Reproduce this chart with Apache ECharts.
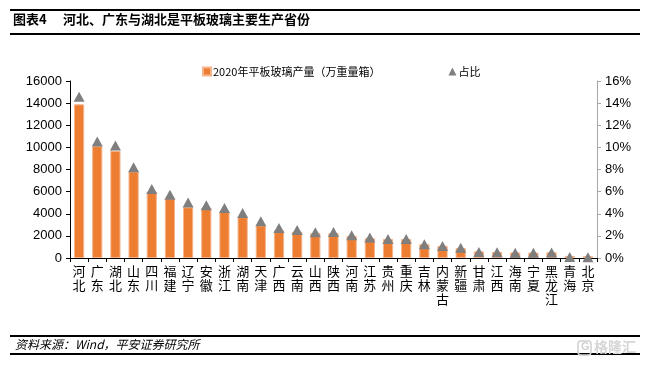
<!DOCTYPE html>
<html>
<head>
<meta charset="utf-8">
<script src="https://cdn.jsdelivr.net/npm/echarts@6/dist/echarts.min.js"></script>
<style>
  html, body { margin: 0; padding: 0; background: #fff; }
  #show { width: 648px; height: 367px; }
</style>
</head>
<body>
<div id="show"></div>
<script>
var myChart = echarts.init(document.getElementById("show"));

// 省份
var provinces = ["河北", "广东", "湖北", "山东", "四川", "福建", "辽宁", "安徽", "浙江", "湖南",
    "天津", "广西", "云南", "山西", "陕西", "河南", "江苏", "贵州", "重庆", "吉林",
    "内蒙古", "新疆", "甘肃", "江西", "海南", "宁夏", "黑龙江", "青海", "北京"];

// 2020年平板玻璃产量（万重量箱）
var output = [13890, 10110, 9690, 7820, 5960, 5380, 4590, 4530, 4160, 3690,
    2950, 2500, 2380, 2250, 2250, 2000, 1800, 1720, 1720, 1250,
    1100, 900, 600, 550, 500, 490, 520, 180, 160];

// 占比（%）
var share = [14.58, 10.52, 10.18, 8.21, 6.24, 5.72, 5.02, 4.77, 4.53, 4.07,
    3.33, 2.72, 2.52, 2.33, 2.35, 2.06, 1.85, 1.72, 1.72, 1.24,
    1.09, 0.92, 0.55, 0.52, 0.48, 0.48, 0.50, 0.08, 0.06];

var leftTicks = [0, 16000, 2000];   // min, max, interval
var rightTicks = [0, 16, 2];

var cjk = '"Noto Sans CJK SC", sans-serif';
var latin = '"Liberation Sans", Arial, sans-serif';

myChart.setOption(option = {
    animation: false,
    textStyle: { fontFamily: latin },
    legend: {
        top: 61,
        left: 197,
        itemGap: 68,
        itemWidth: 8,
        itemHeight: 8,
        textStyle: { fontFamily: cjk, fontSize: 11, color: '#000', padding: [0, 0, 0, -3] },
        data: [
            { name: '2020年平板玻璃产量（万重量箱）', icon: 'rect' },
            { name: '占比', icon: 'triangle' }
        ]
    },
    grid: {
        left: 70,
        right: 51,
        top: 81,
        bottom: 109
    },
    xAxis: {
        type: 'category',
        data: provinces,
        axisLine: { lineStyle: { color: '#000', width: 1 } },
        axisTick: { show: true, length: 4, lineStyle: { color: '#000' } },
        axisLabel: {
            interval: 0,
            margin: 6,
            fontFamily: cjk,
            fontSize: 13,
            lineHeight: 14,
            color: '#000',
            formatter: function (v) { return v.split('').join('\n'); }
        }
    },
    yAxis: [
        {
            type: 'value',
            min: leftTicks[0],
            max: leftTicks[1],
            interval: leftTicks[2],
            splitLine: { show: false },
            axisLine: { show: true, lineStyle: { color: '#000' } },
            axisTick: { show: true, length: 4, lineStyle: { color: '#000' } },
            axisLabel: { fontSize: 13, color: '#000', margin: 8, formatter: function (v) { return String(v); } }
        },
        {
            type: 'value',
            min: rightTicks[0],
            max: rightTicks[1],
            interval: rightTicks[2],
            splitLine: { show: false },
            axisLine: { show: true, lineStyle: { color: '#a6a6a6' } },
            axisTick: { show: true, length: 4, lineStyle: { color: '#a6a6a6' } },
            axisLabel: { fontSize: 13, color: '#000', margin: 8, formatter: '{value}%' }
        }
    ],
    series: [
        {
            name: '2020年平板玻璃产量（万重量箱）',
            type: 'bar',
            data: output,
            barWidth: '56%',
            itemStyle: { color: '#ED7D31', borderColor: '#F6B48C', borderWidth: 1 }
        },
        {
            name: '占比',
            type: 'line',
            yAxisIndex: 1,
            data: share,
            symbol: 'triangle',
            symbolSize: [11, 10],
            lineStyle: { width: 0, opacity: 0 },
            itemStyle: { color: '#7F7F7F' },
            z: 5
        }
    ],
    graphic: [
        { type: 'rect', shape: { x: 10, y: 9, width: 630, height: 2 }, style: { fill: '#000' } },
        { type: 'text', left: 13, top: 13, style: { text: '图表4', font: 'bold 13px ' + cjk, fill: '#000' } },
        { type: 'text', left: 63, top: 13, style: { text: '河北、广东与湖北是平板玻璃主要生产省份', font: 'bold 13px ' + cjk, fill: '#000' } },
        { type: 'rect', shape: { x: 10, y: 33, width: 630, height: 2 }, style: { fill: '#000' } },
        { type: 'rect', shape: { x: 10, y: 335, width: 630, height: 2 }, style: { fill: '#000' } },
        { type: 'text', left: 15, top: 338, style: { text: '资料来源：Wind，平安证券研究所', font: 'italic 12px ' + cjk, fill: '#000' } },
        { type: 'rect', shape: { x: 10, y: 353, width: 630, height: 2 }, style: { fill: '#000' } },
        { type: 'rect', shape: { x: 578, y: 341, width: 13, height: 14, r: 3 }, style: { fill: 'none', stroke: '#d0d0d0', lineWidth: 1.5 } },
        { type: 'text', left: 581, top: 341, style: { text: 'G', font: 'bold 11px ' + latin, fill: '#d0d0d0' } },
        { type: 'text', left: 594, top: 340, style: { text: '格隆汇', font: 'bold 14px ' + cjk, fill: '#d6d6d6' } }
    ]
});
</script>
</body>
</html>
